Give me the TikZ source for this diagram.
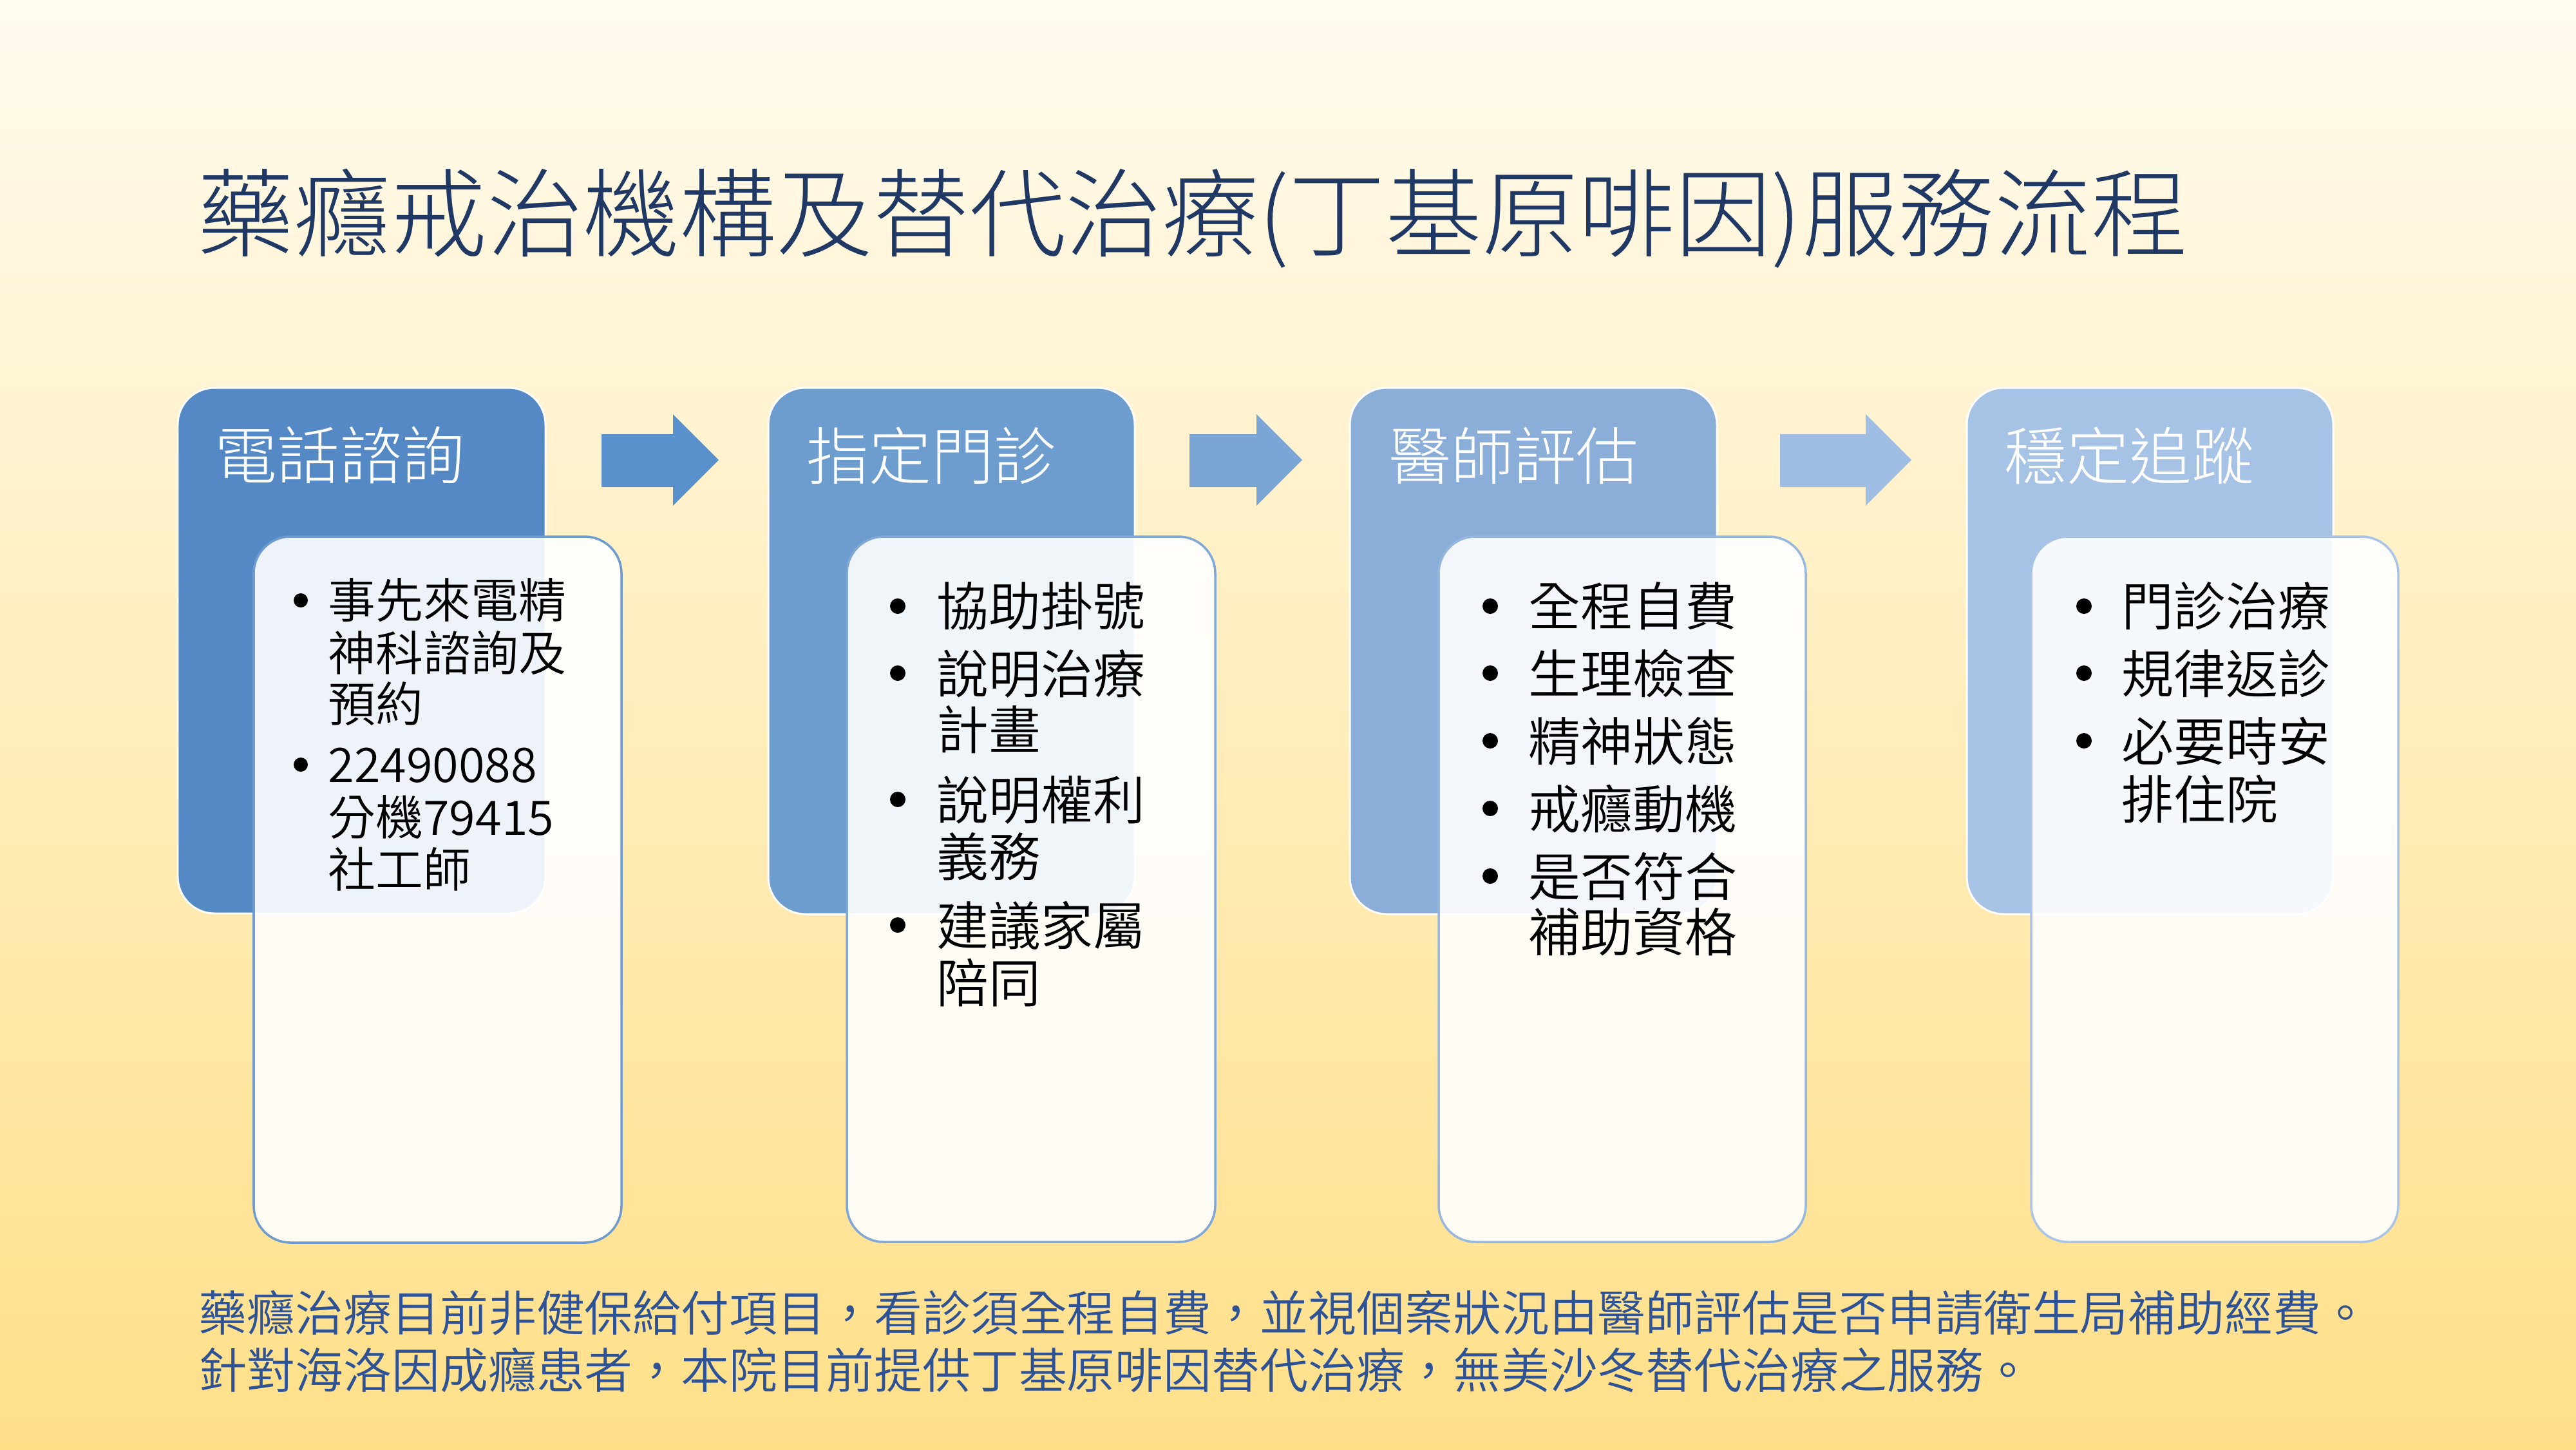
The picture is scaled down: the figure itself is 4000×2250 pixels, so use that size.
\documentclass[tikz,border=0pt]{standalone}
\usepackage{fontspec}
\setmainfont{Noto Sans CJK TC Light}
\newfontfamily\demi{Noto Sans CJK TC DemiLight}
\definecolor{bgtop}{HTML}{FFFBEE}
\definecolor{bgbot}{HTML}{FFDF88}
\definecolor{cA}{HTML}{5489C5}
\definecolor{cB}{HTML}{6C9DCE}
\definecolor{cC}{HTML}{8AAED8}
\definecolor{cD}{HTML}{A6C2E5}
\definecolor{aA}{HTML}{5891CB}
\definecolor{aB}{HTML}{7BA5D5}
\definecolor{aC}{HTML}{A0BEE3}
\definecolor{eA}{HTML}{6E9BD0}
\definecolor{eB}{HTML}{80A7D6}
\definecolor{eC}{HTML}{96B7DE}
\definecolor{eD}{HTML}{A9C4E6}
\definecolor{titlec}{HTML}{1F3864}
\definecolor{notec}{HTML}{2D5295}
\tikzset{
  bluebox/.style={draw=white, line width=0.85pt, rounded corners=0.57cm},
  whitebox/.style={line width=1pt, rounded corners=0.57cm, fill=white, fill opacity=0.9},
  lbl/.style={anchor=base west, inner sep=0pt},
  ttl/.style={lbl, font=\fontsize{42.6pt}{50pt}\selectfont, text=titlec},
  hd/.style={lbl, font=\fontsize{27.6pt}{33pt}\selectfont, text=white},
  bodyA/.style={lbl, font=\demi\fontsize{21pt}{25pt}\selectfont, text=black},
  bodyB/.style={lbl, font=\demi\fontsize{23pt}{27pt}\selectfont, text=black},
  note/.style={lbl, font=\demi\fontsize{21.3pt}{25pt}\selectfont, text=notec},
  dotA/.style={fill=black},
}
\begin{document}
\begin{tikzpicture}[x=0.01cm,y=-0.01cm]
\useasboundingbox (0,0) rectangle (4000,2250);
\shade[top color=bgtop, bottom color=bgbot] (0,0) rectangle (4000,2250);

% title
\node[ttl] (title) at (306,387) {藥癮戒治機構及替代治療(丁基原啡因)服務流程};

% blue boxes
\draw[bluebox, fill=cA] (276,602) rectangle (847,1418);
\draw[bluebox, fill=cB] (1193,602) rectangle (1762,1419);
\draw[bluebox, fill=cC] (2096,602) rectangle (2666,1419);
\draw[bluebox, fill=cD] (3054,602) rectangle (3623,1419);

% arrows
\fill[aA] (934,674) -- (1045,674) -- (1045,643) -- (1116,714) -- (1045,785) -- (1045,756) -- (934,756) -- cycle;
\fill[aB] (1847,674) -- (1951,674) -- (1951,643) -- (2022,714) -- (1951,785) -- (1951,756) -- (1847,756) -- cycle;
\fill[aC] (2764,674) -- (2897,674) -- (2897,643) -- (2968,714) -- (2897,785) -- (2897,756) -- (2764,756) -- cycle;

% column headings
\node[hd] (h1) at (333,743) {電話諮詢};
\node[hd] (h2) at (1252,744) {指定門診};
\node[hd] (h3) at (2156,744) {醫師評估};
\node[hd] (h4) at (3112,744) {穩定追蹤};

% white boxes
\draw[whitebox, draw=eA] (394,833) rectangle (965,1929);
\draw[whitebox, draw=eB] (1315,833) rectangle (1887,1928);
\draw[whitebox, draw=eC] (2234,833) rectangle (2804,1928);
\draw[whitebox, draw=eD] (3154,833) rectangle (3724,1928);

% column 1 text
\fill[dotA] (467,932) circle (11);
\fill[dotA] (467,1187) circle (11);
\node[bodyA] (a1) at (509,959) {事先來電精};
\node[bodyA] (a2) at (509,1041) {神科諮詢及};
\node[bodyA] (a3) at (509,1120) {預約};
\node[bodyA] (a4) at (509,1214) {22490088};
\node[bodyA] (a5) at (509,1296) {分機79415};
\node[bodyA] (a6) at (509,1377) {社工師};

% column 2 text
\foreach \yy in {941,1045,1241,1436} \fill[dotA] (1394,\yy) circle (12);
\node[bodyB] (b1) at (1454,971) {協助掛號};
\node[bodyB] (b2) at (1454,1076) {說明治療};
\node[bodyB] (b3) at (1454,1163) {計畫};
\node[bodyB] (b4) at (1454,1272) {說明權利};
\node[bodyB] (b5) at (1454,1360) {義務};
\node[bodyB] (b6) at (1454,1467) {建議家屬};
\node[bodyB] (b7) at (1454,1556) {陪同};

% column 3 text
\foreach \yy in {941,1045,1150,1255,1360} \fill[dotA] (2314,\yy) circle (12);
\node[bodyB] (c1) at (2373,971) {全程自費};
\node[bodyB] (c2) at (2373,1076) {生理檢查};
\node[bodyB] (c3) at (2373,1181) {精神狀態};
\node[bodyB] (c4) at (2373,1286) {戒癮動機};
\node[bodyB] (c5) at (2373,1391) {是否符合};
\node[bodyB] (c6) at (2373,1477) {補助資格};

% column 4 text
\foreach \yy in {941,1045,1150} \fill[dotA] (3236,\yy) circle (12);
\node[bodyB] (d1) at (3294,971) {門診治療};
\node[bodyB] (d2) at (3294,1076) {規律返診};
\node[bodyB] (d3) at (3294,1181) {必要時安};
\node[bodyB] (d4) at (3294,1271) {排住院};

% notes
\node[note] (n1) at (308,2066) {藥癮治療目前非健保給付項目，看診須全程自費，並視個案狀況由醫師評估是否申請衛生局補助經費。};
\node[note] (n2) at (308,2155) {針對海洛因成癮患者，本院目前提供丁基原啡因替代治療，無美沙冬替代治療之服務。};
\end{tikzpicture}
\end{document}
